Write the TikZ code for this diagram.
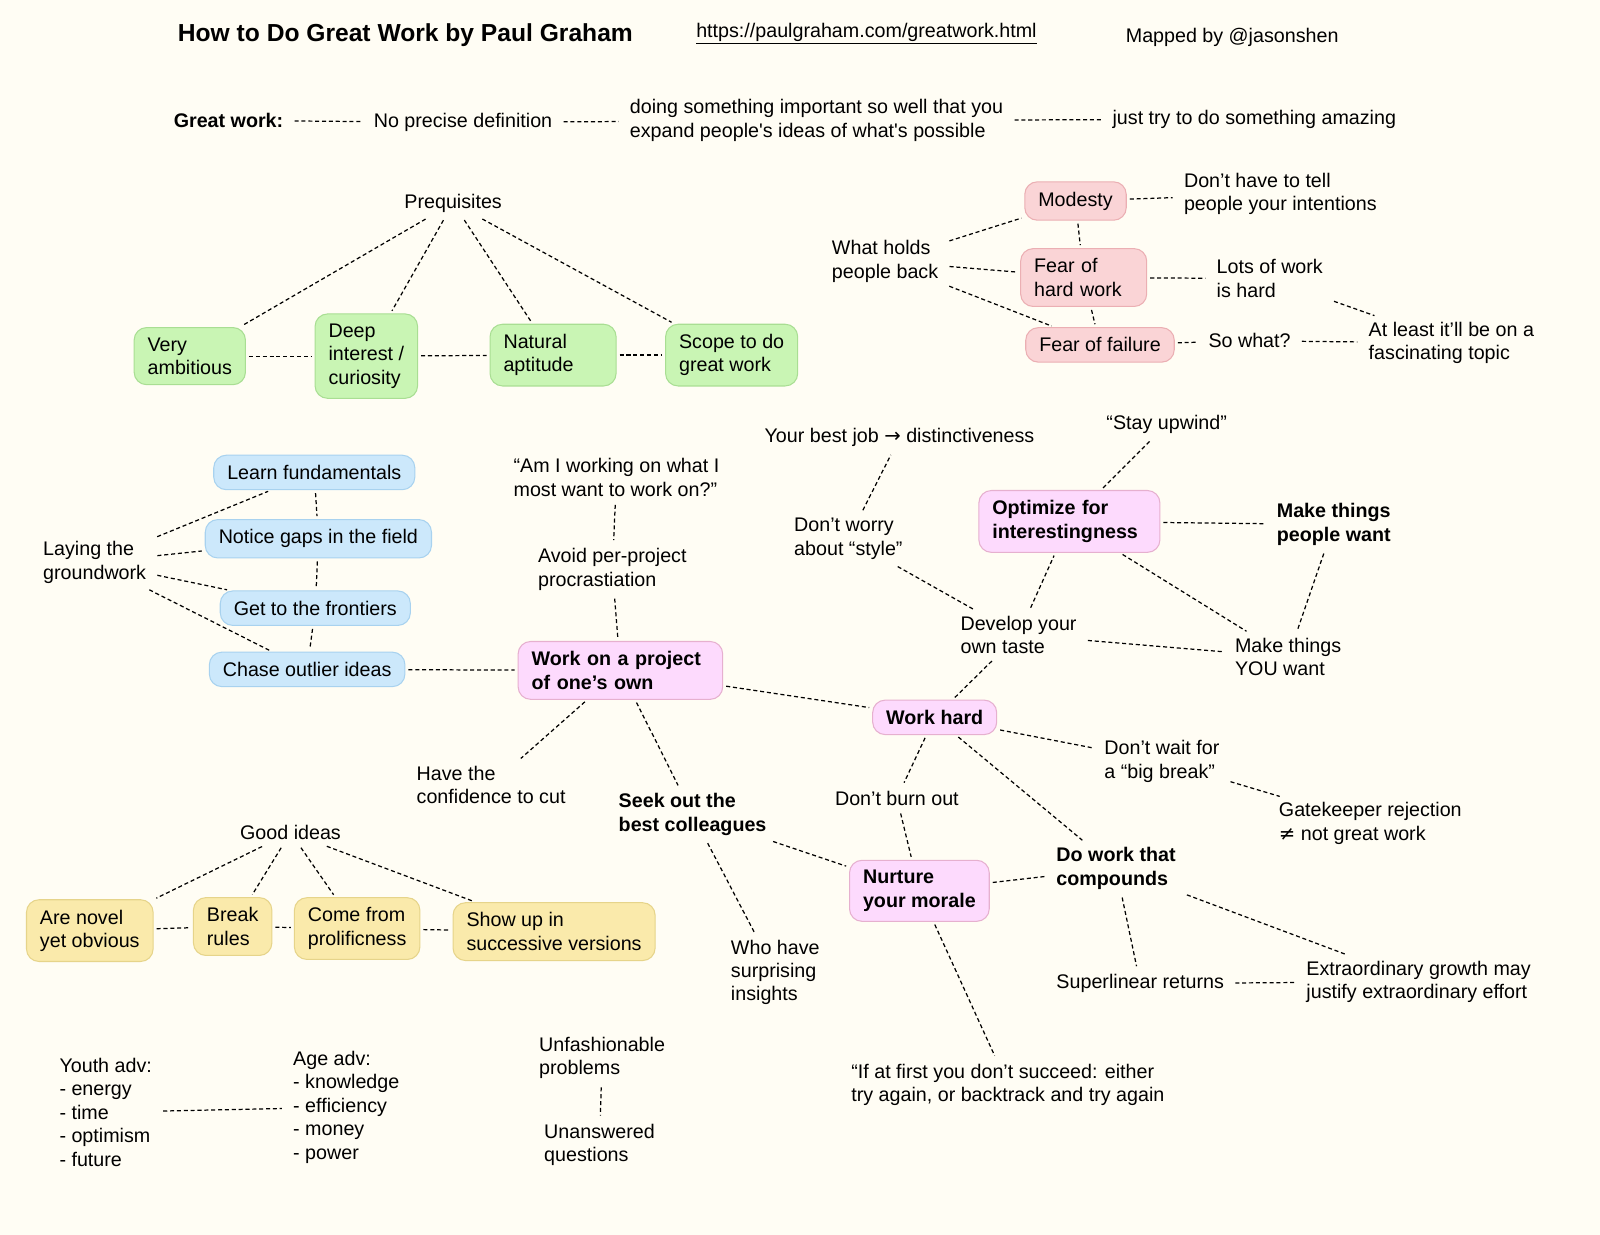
\documentclass[tikz,border=0pt]{standalone}
\usepackage{fontspec}
\setmainfont{Liberation Sans}
\newfontfamily\symfont{DejaVu Sans}
\usetikzlibrary{positioning}
\definecolor{paper}{HTML}{FFFDF4}
\definecolor{greenfill}{HTML}{C9F5B4}
\definecolor{greenline}{HTML}{A9DE93}
\definecolor{pinkfill}{HTML}{FAD4D6}
\definecolor{pinkline}{HTML}{EBAFB3}
\definecolor{bluefill}{HTML}{CCE8FB}
\definecolor{blueline}{HTML}{A8D2EF}
\definecolor{magfill}{HTML}{FDDAFD}
\definecolor{magline}{HTML}{E6B0CF}
\definecolor{yelfill}{HTML}{FAEAAB}
\definecolor{yelline}{HTML}{E6D48A}
\tikzset{
  every node/.style={font=\fontsize{11.2}{13.3}\selectfont},
  txt/.style={align=left, anchor=west, inner xsep=0.16cm, inner ysep=0.1cm, xshift=-0.16cm},
  bubble/.style={align=left, rounded corners=0.25cm, line width=0.6pt, inner xsep=0.27cm, inner ysep=0.2cm},
  greenbox/.style={bubble, fill=greenfill, draw=greenline},
  pinkbox/.style={bubble, fill=pinkfill, draw=pinkline},
  bluebox/.style={bubble, fill=bluefill, draw=blueline},
  magbox/.style={bubble, fill=magfill, draw=magline, font=\fontsize{11.2}{13.3}\selectfont\bfseries},
  yelbox/.style={bubble, fill=yelfill, draw=yelline},
  link/.style={line width=0.7pt, dash pattern=on 2.3pt off 1.6pt, shorten >=1.7pt, shorten <=1.7pt},
}
\begin{document}
\begin{tikzpicture}[x=0.020408cm, y=-0.020408cm]
    \fill[paper] (0,0) rectangle (1568,1210);
    \useasboundingbox (0,0) rectangle (1568,1210);
    % header
    \node[txt, font=\fontsize{14}{16}\selectfont\bfseries] (title) at (174,34) {How to Do Great Work by Paul Graham};
    \node[txt] (url) at (682,33) {\underline{https://paulgraham.com/greatwork.html}};
    \node[txt] (mapped) at (1103,37) {Mapped by @jasonshen};
    % great work
    \node[txt, font=\fontsize{11.2}{13.3}\selectfont\bfseries] (greatw) at (170,118) {Great work:};
    \node[txt] (nodef) at (366,120) {No precise definition};
    \node[txt] (doing) at (617,118) {doing something important so well that you\\expand people\textquotesingle s ideas of what\textquotesingle s possible};
    \node[txt] (amazing) at (1090,117) {just try to do something amazing};
    \draw[link] (greatw) -- (nodef);
    \draw[link] (nodef) -- (doing);
    \draw[link] (doing) -- (amazing);
    % prerequisites
    \node[txt] (preq) at (396,199) {Prequisites};
    \node[greenbox] (ambit) at (186,349) {Very\\ambitious};
    \node[greenbox] (deep) at (359,349) {Deep\\interest /\\curiosity};
    \node[greenbox, text width=1.98cm] (natural) at (542,348) {Natural\\aptitude};
    \node[greenbox] (scope) at (717,348) {Scope to do\\great work};
    \draw[link] (preq) -- (ambit);
    \draw[link] (preq) -- (deep);
    \draw[link] (preq) -- (natural);
    \draw[link] (preq) -- (scope);
    \draw[link] (ambit) -- (deep);
    \draw[link] (deep) -- (natural);
    \draw[link] (natural) -- (scope);
    % what holds people back
    \node[txt] (holds) at (815,256) {What holds\\people back};
    \node[pinkbox] (modesty) at (1054,197) {Modesty};
    \node[pinkbox, text width=1.98cm] (fearhard) at (1062,272) {Fear of\\hard work};
    \node[pinkbox] (fearfail) at (1078,338) {Fear of failure};
    \node[txt] (tell) at (1160,190) {Don’t have to tell\\people your intentions};
    \node[txt] (lots) at (1192,273) {Lots of work\\is hard};
    \node[txt] (sowhat) at (1184,334) {So what?};
    \node[txt] (atleast) at (1341,336) {At least it’ll be on a\\fascinating topic};
    \draw[link] (holds) -- (modesty);
    \draw[link] (holds) -- (fearhard);
    \draw[link] (holds) -- (fearfail);
    \draw[link] (modesty) -- (fearhard);
    \draw[link] (fearhard) -- (fearfail);
    \draw[link] (modesty) -- (tell);
    \draw[link] (fearhard) -- (lots);
    \draw[link] (fearfail) -- (sowhat);
    \draw[link] (sowhat) -- (atleast);
    \draw[link] (lots) -- (atleast);
    % laying the groundwork
    \node[txt] (laying) at (42,551) {Laying the\\groundwork};
    \node[bluebox] (learn) at (308,463) {Learn fundamentals};
    \node[bluebox] (gaps) at (312,528) {Notice gaps in the field};
    \node[bluebox] (frontiers) at (309,596) {Get to the frontiers};
    \node[bluebox] (outlier) at (301,656) {Chase outlier ideas};
    \draw[link] (laying) -- (learn);
    \draw[link] (laying) -- (gaps);
    \draw[link] (laying) -- (frontiers);
    \draw[link] (laying) -- (outlier);
    \draw[link] (learn) -- (gaps);
    \draw[link] (gaps) -- (frontiers);
    \draw[link] (frontiers) -- (outlier);
    % project of one's own
    \node[magbox, text width=3.55cm] (project) at (608,657) {Work on a project\\of one’s own};
    \node[txt] (ami) at (503,468) {“Am I working on what I\\most want to work on?”};
    \node[txt] (avoid) at (527,558) {Avoid per-project\\procrastiation};
    \node[txt] (conf) at (408,769) {Have the\\confidence to cut};
    \node[txt, font=\fontsize{11.2}{13.3}\selectfont\bfseries] (seek) at (606,798) {Seek out the\\best colleagues};
    \node[txt] (who) at (716,953) {Who have\\surprising\\insights};
    \draw[link] (outlier) -- (project);
    \draw[link] (ami) -- (avoid);
    \draw[link] (avoid) -- (project);
    \draw[link] (project) -- (conf);
    \draw[link] (project) -- (seek);
    \draw[link] (seek) -- (who);
    % work hard
    \node[magbox] (hard) at (916,703) {Work hard};
    \node[txt] (develop) at (941,622) {Develop your\\own taste};
    \node[txt] (dontworry) at (778,528) {Don’t worry\\about “style”};
    \node[txt] (bestjob) at (749,429) {Your best job {\symfont→} distinctiveness};
    \node[magbox, text width=3.08cm] (optimize) at (1048,511) {Optimize for\\interestingness};
    \node[txt] (upwind) at (1084,416) {“Stay upwind”};
    \node[txt, font=\fontsize{11.2}{13.3}\selectfont\bfseries] (peoplewant) at (1251,514) {Make things\\people want};
    \node[txt] (youwant) at (1210,644) {Make things\\YOU want};
    \node[txt] (dontwait) at (1082,746) {Don’t wait for\\a “big break”};
    \node[txt] (gate) at (1253,807) {Gatekeeper rejection\\{\symfont≠} not great work};
    \draw[link] (project) -- (hard);
    \draw[link] (hard) -- (develop);
    \draw[link] (develop) -- (dontworry);
    \draw[link] (dontworry) -- (bestjob);
    \draw[link] (develop) -- (optimize);
    \draw[link] (optimize) -- (upwind);
    \draw[link] (optimize) -- (peoplewant);
    \draw[link] (optimize) -- (youwant);
    \draw[link] (peoplewant) -- (youwant);
    \draw[link] (develop) -- (youwant);
    \draw[link] (hard) -- (dontwait);
    \draw[link] (dontwait) -- (gate);
    % morale and compounding
    \node[txt] (burnout) at (818,782) {Don’t burn out};
    \node[magbox] (morale) at (901,873) {Nurture\\your morale};
    \node[txt, font=\fontsize{11.2}{13.3}\selectfont\bfseries] (compounds) at (1035,851) {Do work that\\compounds};
    \node[txt] (ifatfirst) at (834,1063) {“If at first you don’t succeed: either\\try again, or backtrack and try again};
    \node[txt] (superlin) at (1035,964) {Superlinear returns};
    \node[txt] (extra) at (1280,962) {Extraordinary growth may\\justify extraordinary effort};
    \draw[link] (seek) -- (morale);
    \draw[link] (hard) -- (burnout);
    \draw[link] (burnout) -- (morale);
    \draw[link] (hard) -- (compounds);
    \draw[link] (morale) -- (compounds);
    \draw[link] (morale) -- (ifatfirst);
    \draw[link] (compounds) -- (superlin);
    \draw[link] (superlin) -- (extra);
    \draw[link] (compounds) -- (extra);
    % good ideas
    \node[txt] (good) at (235,816) {Good ideas};
    \node[yelbox] (novel) at (88,912) {Are novel\\yet obvious};
    \node[yelbox] (rules) at (228,908) {Break\\rules};
    \node[yelbox] (prolific) at (350,910) {Come from\\prolificness};
    \node[yelbox] (versions) at (543,913) {Show up in\\successive versions};
    \draw[link] (good) -- (novel);
    \draw[link] (good) -- (rules);
    \draw[link] (good) -- (prolific);
    \draw[link] (good) -- (versions);
    \draw[link] (novel) -- (rules);
    \draw[link] (rules) -- (prolific);
    \draw[link] (prolific) -- (versions);
    % youth and age
    \node[txt] (youth) at (58,1090) {Youth adv:\\- energy\\- time\\- optimism\\- future};
    \node[txt] (age) at (287,1085) {Age adv:\\- knowledge\\- efficiency\\- money\\- power};
    \node[txt] (unfash) at (528,1037) {Unfashionable\\problems};
    \node[txt] (unans) at (533,1122) {Unanswered\\questions};
    \draw[link] (youth) -- (age);
    \draw[link] (unfash) -- (unans);
\end{tikzpicture}
\end{document}
